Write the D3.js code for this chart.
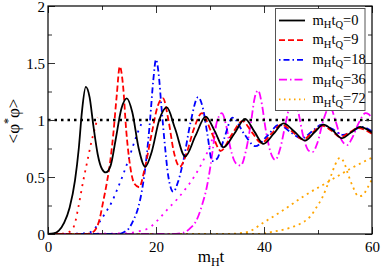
<!DOCTYPE html>
<html>
<head>
<meta charset="utf-8">
<script src="https://cdn.jsdelivr.net/npm/d3@7"></script>
<style>
  html, body { margin: 0; padding: 0; background: #fff; }
  svg { display: block; }
</style>
</head>
<body>
<div id="chart"></div>
<script>
// <phi* phi> against m_H t, one run per quench time m_H t_Q
const quenchTimes = ['0', '9', '18', '36', '72'];
const xTicks = [0, 20, 40, 60];
const yTicks = [0, 0.5, 1, 1.5, 2];

// [m_H t, <phi* phi>]
const solid0 = [[0, 0], [1, 0.005], [2, 0.03], [3, 0.1], [4, 0.23], [5, 0.47], [5.7, 0.75], [6.3, 1.08], [7.0, 1.29],
  [7.7, 1.2], [8.4, 0.95], [9.2, 0.7], [10, 0.57], [10.7, 0.54], [11.6, 0.6], [12.5, 0.82], [13.6, 1.1], [14.6, 1.19],
  [15.6, 1.07], [16.8, 0.75], [18, 0.59], [19.2, 0.72], [20.6, 1.0], [22, 1.11], [23.5, 0.93], [25.4, 0.68],
  [27.3, 0.86], [29.2, 1.03], [30.9, 0.9], [32.5, 0.76], [34.5, 0.88], [36.5, 1.01], [38.2, 0.9], [39.9, 0.79],
  [41.8, 0.88], [43.6, 0.97], [45.6, 0.9], [47.6, 0.82], [49.3, 0.89], [51, 0.96], [52.7, 0.91], [54.4, 0.84],
  [56.1, 0.89], [57.8, 0.94], [59, 0.92], [60, 0.89]];

const dash9 = [[0, 0], [7, 0], [8, 0.01], [8.8, 0.04], [9.5, 0.12], [10.2, 0.28], [10.9, 0.45], [11.5, 0.63],
  [12.1, 0.88], [12.7, 1.2], [13.3, 1.47], [13.9, 1.3], [14.5, 0.9], [15.2, 0.6], [16, 0.44], [16.9, 0.41],
  [17.8, 0.55], [19.2, 0.88], [20.3, 1.12], [21.3, 1.19], [22.3, 1.0], [23.3, 0.72], [24.4, 0.59], [25.6, 0.7],
  [27, 0.92], [28.5, 1.06], [30.2, 0.9], [32, 0.73], [34, 0.87], [36, 0.99], [37.8, 0.89], [39.5, 0.8],
  [41.4, 0.88], [43.2, 0.96], [45.2, 0.9], [47.2, 0.83], [49, 0.89], [50.7, 0.95], [52.4, 0.91], [54.1, 0.85],
  [55.8, 0.89], [57.5, 0.93], [58.8, 0.91], [60, 0.88]];
const dot9 = [[0, 0], [3, 0.003], [4, 0.02], [4.9, 0.08], [5.6, 0.23], [6.5, 0.46], [7.2, 0.62], [8.1, 0.82],
  [8.7, 0.93], [9.2, 1.02]];

const dashdot18 = [[0, 0], [13, 0], [14.2, 0.02], [15, 0.05], [15.8, 0.12], [16.7, 0.23], [17.6, 0.44], [18.3, 0.7],
  [18.9, 1.0], [19.5, 1.35], [20.0, 1.53], [20.5, 1.4], [21, 1.12], [21.6, 0.8], [22.3, 0.5], [23.2, 0.37],
  [24.1, 0.46], [25.1, 0.65], [26.4, 0.98], [27.8, 1.2], [28.7, 1.1], [29.5, 0.88], [30.4, 0.64], [31.3, 0.66],
  [32.5, 0.82], [34.2, 1.02], [36.3, 0.88], [38.4, 0.77], [40.6, 0.86], [42.8, 0.96], [45, 0.89], [47, 0.84],
  [48.9, 0.9], [50.7, 0.96], [52.7, 0.92], [54.6, 0.87], [56.4, 0.9], [58, 0.94], [60, 0.9]];
const dot18 = [[0, 0], [7, 0.005], [8.5, 0.04], [9.6, 0.11], [10.7, 0.19], [11.8, 0.28], [12.9, 0.4], [13.9, 0.52],
  [14.9, 0.65], [15.8, 0.78], [16.7, 0.9], [17.6, 1.0]];

const dashdot36 = [[0, 0], [23, 0], [25, 0.01], [26.3, 0.05], [27.5, 0.12], [28.5, 0.25], [29.4, 0.41], [30.1, 0.6],
  [30.6, 0.77], [31.2, 0.97], [32.2, 1.06], [33, 0.95], [33.8, 0.75], [34.8, 0.62], [35.7, 0.6], [36.6, 0.72],
  [37.5, 0.95], [38.3, 1.2], [38.9, 1.26], [39.6, 1.14], [40.3, 0.92], [41.2, 0.72], [42.1, 0.65], [43, 0.75],
  [44, 0.97], [44.9, 1.15], [45.6, 1.2], [46.3, 1.08], [47.3, 0.85], [48.3, 0.73], [49, 0.72], [49.9, 0.8],
  [51, 1.0], [52.2, 1.12], [53.2, 1.0], [54.3, 0.83], [55.4, 0.78], [56.3, 0.84], [57.5, 0.97], [58.8, 1.06],
  [59.4, 1.05], [60, 1.01]];
const dot36 = [[0, 0], [14, 0.005], [16.5, 0.02], [18.9, 0.06], [20.5, 0.13], [22, 0.21], [24, 0.31], [25.7, 0.41],
  [27.3, 0.52], [28.8, 0.65], [30.2, 0.8], [31.4, 1.01]];

const dot72 = [[0, 0], [39, 0], [41.7, 0.02], [44.5, 0.05], [46.7, 0.09], [48.5, 0.15], [49.8, 0.24], [50.8, 0.32],
  [51.6, 0.41], [52.4, 0.51], [53.2, 0.61], [54.1, 0.67], [54.8, 0.63], [55.6, 0.52], [56.5, 0.41], [57.5, 0.33],
  [58.3, 0.34], [59.1, 0.4], [60, 0.48]];
const dot72b = [[0, 0], [33, 0], [35, 0.005], [37.1, 0.02], [39.9, 0.1], [43.6, 0.21], [47.3, 0.33], [51.6, 0.45],
  [55.9, 0.57], [60, 0.67]];

const unity = [[0, 1], [60, 1]];

const colors = ['#000000', '#ff0000', '#0000ff', '#ff00ff', '#ffa500'];
const dashes = [null, '6,3', '1.5,3,6,3', '8,3,1.5,3', '1.5,3.5'];

// drawing order: back to front
const series = [
  {data: dot72b, color: colors[4], dash: '2,4'},
  {data: dot72, color: colors[4], dash: '2,4'},
  {data: dot36, color: colors[3], dash: '2,5'},
  {data: dashdot36, color: colors[3], dash: dashes[3]},
  {data: dot18, color: colors[2], dash: '2,5'},
  {data: dashdot18, color: colors[2], dash: dashes[2]},
  {data: dot9, color: colors[1], dash: '2,5'},
  {data: dash9, color: colors[1], dash: dashes[1]},
  {data: solid0, color: colors[0], dash: null},
  {data: unity, color: '#000', dash: '2.5,4', width: 2.5}
];

const width = 382, height = 270;
const serif = '"Liberation Serif", "Times New Roman", serif';
const x = d3.scaleLinear().domain([0, 60]).range([48, 372]);
const y = d3.scaleLinear().domain([0, 2]).range([234, 6]);

const svg = d3.select('#chart')
  .append('svg')
  .attr('width', width)
  .attr('height', height)
  .attr('viewBox', [0, 0, width, height])
  .style('font-family', serif);

svg.append('clipPath')
  .attr('id', 'plot-clip')
  .append('rect')
  .attr('x', x(0))
  .attr('y', y(2))
  .attr('width', x(60) - x(0))
  .attr('height', y(0) - y(2));

const line = d3.line()
  .x(d => x(d[0]))
  .y(d => y(d[1]))
  .curve(d3.curveMonotoneX);

svg.append('g')
  .attr('clip-path', 'url(#plot-clip)')
  .selectAll('path')
  .data(series)
  .join('path')
  .attr('d', d => line(d.data))
  .attr('fill', 'none')
  .attr('stroke', d => d.color)
  .attr('stroke-width', d => d.width || 1.8)
  .attr('stroke-dasharray', d => d.dash);

// ticks point inwards on all four sides
function axisGroup(axis, transform) {
  const g = svg.append('g')
    .attr('transform', transform)
    .call(axis)
    .attr('font-size', 15)
    .style('font-family', serif);
  g.select('.domain').remove();
  g.selectAll('.tick line').attr('stroke', '#333');
  g.selectAll('.tick text').attr('fill', '#000');
  return g;
}

const yMinor = d3.range(0.25, 2, 0.5);
const xMinor = [10, 30, 50];

axisGroup(d3.axisLeft(y).tickValues(yTicks).tickSize(-7).tickPadding(3).tickFormat(d => d), `translate(${x(0)},0)`)
  .selectAll('.tick text').attr('dy', '0.36em');
axisGroup(d3.axisLeft(y).tickValues(yMinor).tickSize(-4).tickFormat(''), `translate(${x(0)},0)`);
axisGroup(d3.axisRight(y).tickValues(yTicks).tickSize(-7).tickFormat(''), `translate(${x(60)},0)`);
axisGroup(d3.axisRight(y).tickValues(yMinor).tickSize(-4).tickFormat(''), `translate(${x(60)},0)`);
axisGroup(d3.axisBottom(x).tickValues(xTicks).tickSize(-7).tickPadding(7).tickFormat(d => d), `translate(0,${y(0)})`);
axisGroup(d3.axisBottom(x).tickValues(xMinor).tickSize(-4).tickFormat(''), `translate(0,${y(0)})`);
axisGroup(d3.axisTop(x).tickValues(xTicks).tickSize(-7).tickFormat(''), `translate(0,${y(2)})`);
axisGroup(d3.axisTop(x).tickValues(xMinor).tickSize(-4).tickFormat(''), `translate(0,${y(2)})`);

svg.append('rect')
  .attr('x', x(0))
  .attr('y', y(2))
  .attr('width', x(60) - x(0))
  .attr('height', y(0) - y(2))
  .attr('fill', 'none')
  .attr('stroke', '#000')
  .attr('stroke-width', 1.2);

// axis titles
const xTitle = svg.append('text')
  .attr('x', 211)
  .attr('y', 262)
  .attr('text-anchor', 'middle')
  .attr('font-size', 17);
xTitle.append('tspan').text('m');
xTitle.append('tspan').attr('font-size', 12).attr('dy', 4).text('H');
xTitle.append('tspan').attr('dy', -4).text('t');

const yTitle = svg.append('text')
  .attr('transform', `translate(19,${(y(0) + y(2)) / 2 + 1}) rotate(-90)`)
  .attr('text-anchor', 'middle')
  .attr('font-size', 17);
yTitle.append('tspan').text('<φ');
yTitle.append('tspan').attr('font-size', 12).attr('dy', -7).text('*');
yTitle.append('tspan').attr('dy', 7).text('φ>');

// legend
const legend = svg.append('g');
legend.append('rect')
  .attr('x', 275.5)
  .attr('y', 8.5)
  .attr('width', 89.5)
  .attr('height', 102)
  .attr('fill', '#fff')
  .attr('stroke', '#555')
  .attr('stroke-width', 1);

const entry = legend.selectAll('g.entry')
  .data(quenchTimes)
  .join('g')
  .attr('class', 'entry')
  .attr('transform', (d, i) => `translate(0,${20.5 + i * 19.7})`);

entry.append('line')
  .attr('x1', 279)
  .attr('x2', 305)
  .attr('stroke', (d, i) => colors[i])
  .attr('stroke-width', 1.8)
  .attr('stroke-dasharray', (d, i) => dashes[i]);

const label = entry.append('text')
  .attr('x', 312.5)
  .attr('y', 4)
  .attr('font-size', 14.5);
label.append('tspan').text('m');
label.append('tspan').attr('font-size', 10.5).attr('dy', 3.5).text('H');
label.append('tspan').attr('dy', -3.5).text('t');
label.append('tspan').attr('font-size', 10.5).attr('dy', 3.5).text('Q');
label.append('tspan').attr('dy', -3.5).text(d => '=' + d);
</script>
</body>
</html>
